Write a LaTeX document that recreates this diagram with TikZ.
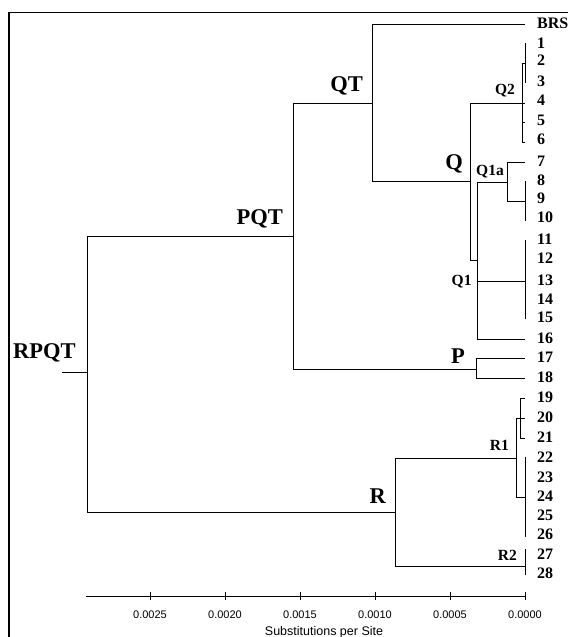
\documentclass[tikz,border=0pt]{standalone}
\usepackage{fontspec}
\setmainfont{Liberation Serif}
\newfontfamily\axisfont{Liberation Sans}
\begin{document}
\begin{tikzpicture}[x=1pt,y=-1pt,
  br/.style={line width=0.9pt,black},
  frame/.style={line width=1.3pt,black},
  big/.style={font=\fontsize{22.5}{24}\selectfont\bfseries,inner sep=0pt},
  small/.style={font=\fontsize{15.5}{17}\selectfont\bfseries,inner sep=0pt},
  leaf/.style={font=\fontsize{16}{17}\selectfont\bfseries,inner sep=0pt,anchor=west},
  ticklab/.style={font=\axisfont\fontsize{11}{12}\selectfont,inner sep=0pt},
  axtitle/.style={font=\axisfont\fontsize{12.5}{13}\selectfont,inner sep=0pt,anchor=base},
]
\useasboundingbox (0,0) rectangle (568,637);
\fill[white] (0,0) rectangle (568,637);
% frame
\draw[frame] (9,637) -- (9,12.5) -- (568,12.5);
% internal nodes
\coordinate (root) at (62,372);
\coordinate (RPQT) at (87,372);
\coordinate (PQT) at (293,236);
\coordinate (R) at (395,512);
\coordinate (QT) at (372,103);
\coordinate (P) at (476,369);
\coordinate (Q) at (470,181);
\coordinate (Q2) at (522,103);
\coordinate (Q1) at (477,260);
\coordinate (Q1a) at (507,182);
\coordinate (R1) at (516,458);
\coordinate (R2) at (525,566);
% leaf / cluster ends
\coordinate (eBRS) at (525,24);
\coordinate (c123) at (525,63);
\coordinate (e4) at (525,103);
\coordinate (e5) at (525,122);
\coordinate (e6) at (525,142);
\coordinate (e7) at (525,162);
\coordinate (c810) at (525,201);
\coordinate (c1115) at (525,281);
\coordinate (e16) at (525,339);
\coordinate (e17) at (525,358);
\coordinate (e18) at (525,378);
\coordinate (c1921) at (520,418);
\coordinate (c2226) at (525,497);
% branches
\draw[br] (root) -- (RPQT);
\draw[br] (RPQT) |- (PQT);
\draw[br] (RPQT) |- (R);
\draw[br] (PQT) |- (QT);
\draw[br] (PQT) |- (P);
\draw[br] (QT) |- (eBRS);
\draw[br] (QT) |- (Q);
\draw[br] (Q) |- (Q2);
\draw[br] (Q) |- (Q1);
\draw[br] (Q2) |- (c123);
\draw[br] (Q2) -- (e4);
\draw[br] (Q2) |- (e5);
\draw[br] (Q2) |- (e6);
\draw[br] (Q1) |- (Q1a);
\draw[br] (Q1) |- (c1115);
\draw[br] (Q1) |- (e16);
\draw[br] (Q1a) |- (e7);
\draw[br] (Q1a) |- (c810);
\draw[br] (P) |- (e17);
\draw[br] (P) |- (e18);
\draw[br] (R) |- (R1);
\draw[br] (R) |- (R2);
\draw[br] (R1) |- (c1921);
\draw[br] (R1) |- (c2226);
% polytomy bars
\draw[br] (525,43) -- (525,83);
\draw[br] (525,181) -- (525,221);
\draw[br] (525,240) -- (525,319);
\draw[br] (525,398) -- (520,398) -- (520,438) -- (525,438);
\draw[br] (c1921) -- (525,418);
\draw[br] (525,457) -- (525,537);
\draw[br] (525,549) -- (525,575);
% clade labels
\node[big,anchor=base east] (lQT) at (363,91.5) {QT};
\node[big,anchor=base east] (lPQT) at (283,224.5) {PQT};
\node[big,anchor=base west] (lRPQT) at (13,358.7) {RPQT};
\node[big,anchor=base east] (lQ) at (463,169.5) {Q};
\node[big,anchor=base east] (lP) at (465,363.3) {P};
\node[big,anchor=base east] (lR) at (386,503.3) {R};
\node[small,anchor=base east] (lQ2) at (515,94) {Q2};
\node[small,anchor=base east] (lQ1a) at (504,175) {Q1a};
\node[small,anchor=base east] (lQ1) at (471.7,285) {Q1};
\node[small,anchor=base east] (lR1) at (509,450) {R1};
\node[small,anchor=base east] (lR2) at (517,560) {R2};
% leaf labels
\node[leaf] (tBRS) at (537,23) {BRS};
\foreach \i/\y in {1/43,2/60,3/81,4/100.5,5/120,6/139,7/161.5,8/180,9/198,10/217,
  11/239,12/258,13/280,14/299,15/317.5,16/338.5,17/357.5,18/377,19/397,20/417,
  21/437,22/457.5,23/477,24/496,25/515,26/534.5,27/554,28/573}
  \node[leaf] (t\i) at (537,\y) {\i};
% axis
\coordinate (ax0) at (86,596);
\coordinate (ax1) at (525,596);
\draw[br] (ax0) -- (ax1);
\foreach \v/\x in {0.0025/150,0.0020/225,0.0015/300,0.0010/375,0.0005/450,0.0000/525}{
  \draw[br] (\x,592) -- (\x,600);
  \node[ticklab] (k\x) at (\x,614.5) {\v};
}
\node[axtitle] (atitle) at (324,635) {Substitutions per Site};
\end{tikzpicture}
\end{document}
